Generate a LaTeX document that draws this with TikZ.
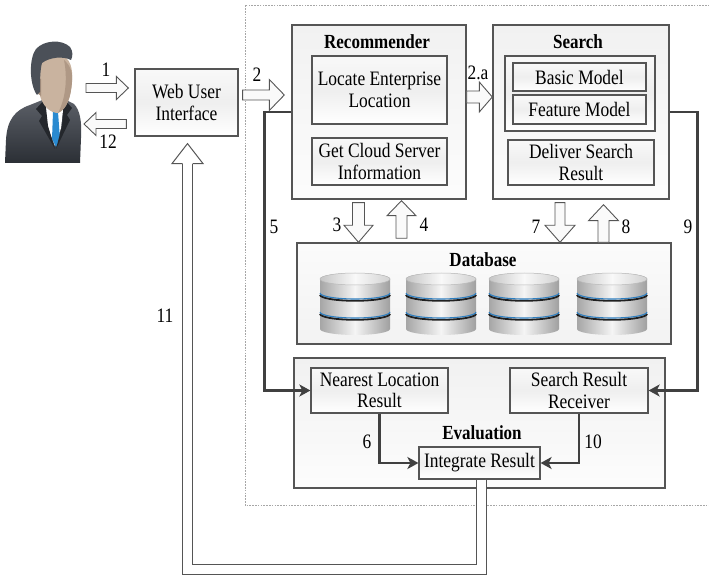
\documentclass[tikz,border=0pt]{standalone}
\usepackage{fontspec}
\setmainfont{Liberation Serif}[FakeStretch=0.85]
\usetikzlibrary{calc,arrows.meta}

\definecolor{boxedge}{HTML}{555555}
\definecolor{linkgray}{HTML}{404040}
\definecolor{suitdark}{HTML}{2B2F35}
\definecolor{suitlight}{HTML}{5C6068}
\definecolor{lapel}{HTML}{24272C}
\definecolor{hairgray}{HTML}{4B5058}
\definecolor{skin}{HTML}{C9B39F}
\definecolor{skinshade}{HTML}{A8917E}
\definecolor{tieblue}{HTML}{2A8AD0}
\definecolor{ringblue}{HTML}{2F7FC0}

% hollow block arrow from #1 to #2: shaft half-width #3, head half-width #4, head length #5
\newcommand\blockarrow[5]{%
  \coordinate (ba-neck) at ($(#2)!#5!(#1)$);
  \draw[hollowarrow] ($(#1)!#3!90:(#2)$) -- ($(ba-neck)!#3!90:(#2)$)
    -- ($(ba-neck)!#4!90:(#2)$) -- (#2) -- ($(ba-neck)!#4!-90:(#2)$)
    -- ($(ba-neck)!#3!-90:(#2)$) -- ($(#1)!#3!-90:(#2)$) -- cycle;}

\tikzset{
  every node/.style={font=\fontsize{20.5}{21.5}\selectfont, text=black},
  outerbox/.style={draw=boxedge, line width=1.4pt, top color=gray!11, bottom color=gray!2, inner sep=0pt},
  innerbox/.style={draw=boxedge, line width=1.2pt, top color=gray!5, bottom color=white, middle color=gray!13, inner sep=0pt, align=center},
  title/.style={font=\fontsize{20}{21}\selectfont\bfseries, inner sep=0pt},
  numlabel/.style={inner sep=0pt},
  hollowarrow/.style={draw=boxedge, line width=0.9pt, fill=gray!4, line join=miter},
  link/.style={draw=linkgray, line width=2.6pt, -{Stealth[length=11pt,width=12pt,inset=3pt]}},
  dashframe/.style={draw=gray!70, line width=0.7pt, dash pattern=on 1.6pt off 1.2pt},
  dbcyl/.pic={
    \foreach \ytop/\ybot in {33/50, 14/33, 0/14}{
      \shade[left color=gray!70, right color=gray!75, middle color=gray!8]
        (-35,\ytop) -- (-35,\ybot) arc[start angle=180, end angle=0, x radius=35, y radius=6]
        -- (35,\ytop) arc[start angle=0, end angle=-180, x radius=35, y radius=6] -- cycle;
    }
    \foreach \yb in {14,33}{
      \draw[gray!25!black, line width=1.8pt] (-35,\yb+1.8) arc[start angle=180, end angle=0, x radius=35, y radius=6];
      \draw[ringblue, line width=1.1pt] (-35,\yb) arc[start angle=180, end angle=0, x radius=35, y radius=6];
    }
    \shade[left color=gray!45, right color=gray!35, middle color=gray!5]
      (0,0) ellipse[x radius=35, y radius=6];
    \draw[gray!55, line width=0.5pt] (0,0) ellipse[x radius=35, y radius=6];
  }
}

\begin{document}
\begin{tikzpicture}[x=1pt, y=-1pt]
\useasboundingbox (0,0) rectangle (709,577);

% dashed system boundary
\draw[dashframe] (715,5) -- (245,5) -- (245,505) -- (715,505);

% the user
\shade[top color=suitlight, bottom color=suitdark] (5,163) -- (6,140)
  .. controls (7,120) and (15,110) .. (30,105) -- (45,99) -- (64,99) -- (74,104)
  .. controls (80,110) and (82,122) .. (81,138) -- (80,163) -- cycle;
\fill[white] (45,102) -- (64,102) -- (61,128) -- (55,146) -- (47,126) -- cycle;
\fill[skinshade] (47,94) -- (63,94) -- (63,107) -- (55,113) -- (47,107) -- cycle;
\fill[tieblue] (53,112) -- (58,112) -- (60,139) -- (56,147) -- (52,139) -- cycle;
\fill[lapel] (45,99) -- (36,109) -- (42,116) -- (39,121) -- (55,149) -- (48,126) -- cycle;
\fill[lapel] (64,99) -- (72,108) -- (67,115) -- (70,120) -- (56,149) -- (62,126) -- cycle;
\fill[skin] (40,64) .. controls (42,56) and (52,53) .. (61,55)
  .. controls (70,58) and (73,68) .. (72,80) .. controls (71,97) and (67,109) .. (58,113)
  .. controls (50,113) and (43,106) .. (40,96) -- cycle;
\fill[skinshade!80!skin] (64,60) .. controls (71,66) and (73,74) .. (72,82)
  .. controls (71,97) and (67,109) .. (58,113) .. controls (65,100) and (68,80) .. (64,60) -- cycle;
\fill[skinshade] (41,79) .. controls (33,77) and (33,92) .. (41,96) -- cycle;
\fill[hairgray] (37,95) .. controls (29,84) and (29,58) .. (36,49)
  .. controls (44,40) and (62,39) .. (70,47) .. controls (73,51) and (73,56) .. (71,60)
  .. controls (63,56) and (50,57) .. (42,63) .. controls (40,70) and (40,82) .. (40,92) -- cycle;

% web front end
\node[innerbox, minimum width=103pt, minimum height=67pt] (web) at (186.5,102.5) {Web User\\Interface};

% recommender
\node[outerbox, minimum width=174pt, minimum height=174pt] (rec) at (379,112) {};
\node[title] (rectitle) at (377,42) {Recommender};
\node[innerbox, minimum width=135pt, minimum height=68pt] (loc) at (379.5,90) {Locate Enterprise\\Location};
\node[innerbox, minimum width=135pt, minimum height=47pt] (cloud) at (379.5,161.5) {Get Cloud Server\\Information};

% search
\node[outerbox, minimum width=176pt, minimum height=174pt] (srch) at (581,112) {};
\node[title] (srchtitle) at (578,42) {Search};
\node[innerbox, minimum width=150pt, minimum height=75pt] (models) at (580,93.5) {};
\node[innerbox, minimum width=133pt, minimum height=28pt] (basic) at (579.5,77) {Basic Model};
\node[innerbox, minimum width=133pt, minimum height=29pt] (feat) at (579.5,109.5) {Feature Model};
\node[innerbox, minimum width=146pt, minimum height=45pt] (deliv) at (581,162.5) {Deliver Search\\Result};

% database
\node[outerbox, top color=gray!3, bottom color=gray!10, minimum width=374pt, minimum height=101pt] (db) at (484,293.5) {};
\node[title] (dbtitle) at (483,260) {Database};
\foreach \cx in {355,441,524,612}{ \pic at (\cx,279) {dbcyl}; }

% evaluation
\node[outerbox, minimum width=371pt, minimum height=130pt] (eval) at (479.5,423) {};
\node[title] (evaltitle) at (482,433) {Evaluation};
\node[innerbox, minimum width=137pt, minimum height=45pt] (near) at (379.5,390.5) {Nearest Location\\Result};
\node[innerbox, minimum width=138pt, minimum height=45pt] (recv) at (579,390.5) {Search Result\\Receiver};
\node[innerbox, minimum width=121pt, minimum height=32pt] (integ) at (479.5,463) {Integrate Result};

% result links
\draw[link] (rec.west) -- ++(-27,0) |- (near.west);
\draw[link] (srch.east) -- ++(28,0) |- (recv.east);
\draw[link] (near.south) |- (integ.west);
\draw[link] (recv.south) |- (integ.east);

% hollow request/response arrows
\coordinate (a1s) at (86,88);
\coordinate (a1e) at ($(web.west)+(-6,-14.5)$);
\blockarrow{a1s}{a1e}{4.5pt}{11.5pt}{12pt}
\coordinate (a12s) at ($(web.west)+(-8,21.5)$);
\coordinate (a12e) at (84,124);
\blockarrow{a12s}{a12e}{4.5pt}{11.5pt}{12pt}
\coordinate (a2s) at ($(web.east)+(4,-7.5)$);
\coordinate (a2e) at ($(rec.west |- a2s)+(-7,0)$);
\blockarrow{a2s}{a2e}{5pt}{15.5pt}{15pt}
\coordinate (a2as) at ($(rec.east)+(0,-15)$);
\coordinate (a2ae) at ($(srch.west)+(0,-15)$);
\blockarrow{a2as}{a2ae}{6pt}{15pt}{13pt}
\coordinate (a3s) at ($(rec.south)+(-20.5,3)$);
\coordinate (a3e) at (a3s |- db.north);
\blockarrow{a3s}{a3e}{6pt}{14.5pt}{17pt}
\coordinate (a4e) at ($(rec.south)+(22.5,1)$);
\coordinate (a4s) at ($(a4e |- db.north)+(0,-4)$);
\blockarrow{a4s}{a4e}{5.5pt}{14.5pt}{15pt}
\coordinate (a7s) at ($(srch.south)+(-21,3)$);
\coordinate (a7e) at (a7s |- db.north);
\blockarrow{a7s}{a7e}{5pt}{15pt}{17pt}
\coordinate (a8e) at ($(srch.south)+(22.5,5)$);
\coordinate (a8s) at (a8e |- db.north);
\blockarrow{a8s}{a8e}{5.5pt}{15pt}{16pt}

% long return arrow back to the web front end
\coordinate (s11) at ($(integ.south)+(1.5,0)$);
\coordinate (t11) at ($(web.south)+(1,7)$);
\coordinate (b11) at ($(t11)+(0,20)$);
\coordinate (c11) at (187.5,569);
\draw[boxedge, line width=1pt, double=white, double distance=9pt] (s11) |- (c11) -- (b11);
\fill[white] ($(b11)+(-15.5,0)$) -- (t11) -- ($(b11)+(15.5,0)$) -- cycle;
\draw[boxedge, line width=1pt, line join=miter] ($(b11)+(-5,0)$) -- ($(b11)+(-15.5,0)$) -- (t11) -- ($(b11)+(15.5,0)$) -- ($(b11)+(5,0)$);

% step numbers
\node[numlabel] (l1) at (106,70) {1};
\node[numlabel] (l12) at (108,142) {12};
\node[numlabel] (l2) at (257,75) {2};
\node[numlabel] (l2a) at (478,73) {2.a};
\node[numlabel] (l3) at (337,225) {3};
\node[numlabel] (l4) at (424,225) {4};
\node[numlabel] (l5) at (274,227) {5};
\node[numlabel] (l7) at (536,227) {7};
\node[numlabel] (l8) at (626,227) {8};
\node[numlabel] (l9) at (688,227) {9};
\node[numlabel] (l6) at (367,442) {6};
\node[numlabel] (l10) at (593,442) {10};
\node[numlabel] (l11) at (165,316) {11};
\end{tikzpicture}
\end{document}
